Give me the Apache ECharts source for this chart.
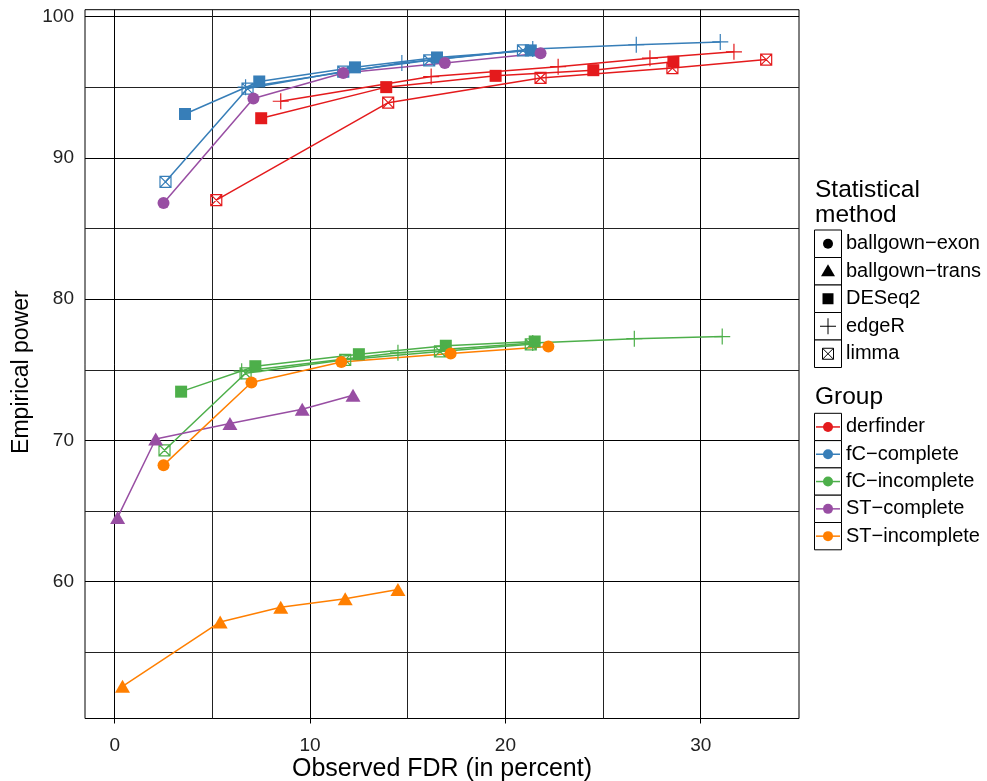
<!DOCTYPE html>
<html><head><meta charset="utf-8">
<script src="https://cdn.jsdelivr.net/npm/echarts@6/dist/echarts.min.js"></script>
<style>html,body{margin:0;padding:0;background:#fff}#c{width:987px;height:781px}</style>
</head><body><div id="c"></div>
<script>
const groups = ['derfinder','fC\u2212complete','fC\u2212incomplete','ST\u2212complete','ST\u2212incomplete'];
const groupColors = ['#E41A1C','#377EB8','#4DAF4A','#984EA3','#FF7F00'];
const methods = ['ballgown\u2212exon','ballgown\u2212trans','DESeq2','edgeR','limma'];
const xTicks = [0,10,20,30];
const xMinorTicks = [5,15,25];
const yTicks = [60,70,80,90,100];
const yMinorTicks = [55,65,75,85,95];

// [observed FDR (%), empirical power (%)]
const derfinderDESeq2   = [[7.5,92.8],[13.9,95.0],[19.5,95.8],[24.5,96.2],[28.6,96.8]];
const derfinderEdgeR    = [[8.5,94.0],[16.2,95.75],[22.7,96.45],[27.4,97.05],[31.7,97.5]];
const derfinderLimma    = [[5.2,87.0],[14.0,93.9],[21.8,95.65],[28.55,96.35],[33.35,96.95]];
const fcCompleteDESeq2  = [[3.6,93.1],[7.4,95.4],[12.3,96.4],[16.5,97.1],[21.3,97.6]];
const fcCompleteEdgeR   = [[6.7,95.0],[14.7,96.7],[21.4,97.7],[26.7,98.0],[31.0,98.2]];
const fcCompleteLimma   = [[2.6,88.3],[6.8,94.9],[11.7,96.1],[16.1,96.9],[20.9,97.6]];
const fcIncompleteDESeq2= [[3.4,73.45],[7.2,75.25],[12.5,76.1],[16.95,76.7],[21.5,77.0]];
const fcIncompleteEdgeR = [[6.5,74.9],[14.5,76.2],[21.4,76.9],[26.6,77.2],[31.1,77.35]];
const fcIncompleteLimma = [[2.55,69.3],[6.7,74.75],[11.8,75.7],[16.65,76.3],[21.3,76.8]];
const stCompleteExon    = [[2.5,86.8],[7.1,94.2],[11.7,96.0],[16.9,96.7],[21.8,97.4]];
const stCompleteTrans   = [[0.15,64.55],[2.1,70.1],[5.9,71.2],[9.6,72.2],[12.2,73.2]];
const stIncompleteExon  = [[2.5,68.25],[7.0,74.1],[11.6,75.55],[17.2,76.15],[22.2,76.65]];
const stIncompleteTrans = [[0.4,52.6],[5.4,57.15],[8.5,58.2],[11.8,58.8],[14.5,59.45]];

const combos = [
  [0,2,derfinderDESeq2],[0,3,derfinderEdgeR],[0,4,derfinderLimma],
  [1,2,fcCompleteDESeq2],[1,3,fcCompleteEdgeR],[1,4,fcCompleteLimma],
  [2,2,fcIncompleteDESeq2],[2,3,fcIncompleteEdgeR],[2,4,fcIncompleteLimma],
  [3,0,stCompleteExon],[3,1,stCompleteTrans],
  [4,0,stIncompleteExon],[4,1,stIncompleteTrans]
];

const FONT = '"Liberation Sans", Arial, Helvetica, sans-serif';
const symbolDefs = [
  {symbol:'circle', size:12, filled:true},
  {symbol:'triangle', size:[15,13], filled:true},
  {symbol:'rect', size:12, filled:true},
  {symbol:'path://M0,8L16,8M8,0L8,16', size:16, filled:false},
  {symbol:'path://M0,0L10,0L10,10L0,10ZM0,0L10,10M10,0L0,10', size:11, filled:false}
];

const series = combos.map(([gi, mi, data]) => {
  const col = groupColors[gi];
  const sd = symbolDefs[mi];
  return {
    name: groups[gi] + ' / ' + methods[mi],
    type: 'line',
    data: data,
    xAxisIndex: 0, yAxisIndex: 0,
    symbol: sd.symbol,
    symbolSize: sd.size,
    showSymbol: true,
    clip: false,
    lineStyle: {color: col, width: 1.5},
    itemStyle: sd.filled ? {color: col, borderWidth: 0} : {color: 'none', borderColor: col, borderWidth: 1.2},
    emphasis: {disabled: true},
    z: 3
  };
});

// Legend drawn as graphics
const graphic = [];
const KX = 814.5, KW = 27, KH = 27.5, SX = 828;
graphic.push({type:'text', x:815, y:190, style:{text:'Statistical', fontSize:24.5, fontFamily:FONT, fill:'#000', verticalAlign:'middle'}});
graphic.push({type:'text', x:815, y:215.5, style:{text:'method', fontSize:24.5, fontFamily:FONT, fill:'#000', verticalAlign:'middle'}});
methods.forEach((m, i) => {
  const top = 230 + i*KH, cy = top + KH/2;
  graphic.push({type:'rect', shape:{x:KX, y:top, width:KW, height:KH}, style:{fill:'#fff', stroke:'#000', lineWidth:1}});
  if (i === 0) graphic.push({type:'circle', shape:{cx:SX, cy:cy, r:5}, style:{fill:'#000'}});
  if (i === 1) graphic.push({type:'polygon', shape:{points:[[SX-7,cy+5],[SX+7,cy+5],[SX,cy-7]]}, style:{fill:'#000'}});
  if (i === 2) graphic.push({type:'rect', shape:{x:SX-5.5, y:cy-5.5, width:11, height:11}, style:{fill:'#000'}});
  if (i === 3) {
    graphic.push({type:'line', shape:{x1:SX-8, y1:cy, x2:SX+8, y2:cy}, style:{stroke:'#000', lineWidth:1}});
    graphic.push({type:'line', shape:{x1:SX, y1:cy-8, x2:SX, y2:cy+8}, style:{stroke:'#000', lineWidth:1}});
  }
  if (i === 4) {
    graphic.push({type:'rect', shape:{x:SX-5.5, y:cy-5.5, width:11, height:11}, style:{fill:'none', stroke:'#000', lineWidth:1}});
    graphic.push({type:'line', shape:{x1:SX-5.5, y1:cy-5.5, x2:SX+5.5, y2:cy+5.5}, style:{stroke:'#000', lineWidth:1}});
    graphic.push({type:'line', shape:{x1:SX+5.5, y1:cy-5.5, x2:SX-5.5, y2:cy+5.5}, style:{stroke:'#000', lineWidth:1}});
  }
  graphic.push({type:'text', x:846, y:cy, style:{text:m, fontSize:20, fontFamily:FONT, fill:'#000', verticalAlign:'middle'}});
});
graphic.push({type:'text', x:815, y:397.5, style:{text:'Group', fontSize:24.5, fontFamily:FONT, fill:'#000', verticalAlign:'middle'}});
const GKH = 27.3;
groups.forEach((gname, i) => {
  const top = 413.3 + i*GKH, cy = top + GKH/2;
  graphic.push({type:'rect', shape:{x:KX, y:top, width:KW, height:GKH}, style:{fill:'#fff', stroke:'#000', lineWidth:1}});
  graphic.push({type:'line', shape:{x1:KX+1.5, y1:cy, x2:KX+KW-1.5, y2:cy}, style:{stroke:groupColors[i], lineWidth:1.5}});
  graphic.push({type:'circle', shape:{cx:SX, cy:cy, r:5}, style:{fill:groupColors[i]}});
  graphic.push({type:'text', x:846, y:cy, style:{text:gname, fontSize:20, fontFamily:FONT, fill:'#000', verticalAlign:'middle'}});
});

const XMIN = -1.52, XMAX = 35.03, YMIN = 50.32, YMAX = 100.48;
const option = {
  animation: false,
  backgroundColor: '#fff',
  textStyle: {fontFamily: FONT},
  grid: {left:85, top:9.7, right:188, bottom:62.5, show:true, borderColor:'#000', borderWidth:1, containLabel:false, outerBoundsMode:'none'},
  xAxis: [
    {type:'value', min:XMIN, max:XMAX,
     axisLine:{show:false},
     axisTick:{show:true, customValues:xTicks, length:5, lineStyle:{color:'#000', width:1}},
     axisLabel:{customValues:xTicks, fontSize:19, color:'#222', margin:18, fontFamily:FONT},
     splitLine:{show:true, lineStyle:{color:'#000', width:1}},
     name:'Observed FDR (in percent)', nameLocation:'middle', nameGap:38, nameMoveOverlap:false,
     nameTextStyle:{fontSize:25, color:'#000', fontFamily:FONT}},
    {type:'value', min:XMIN, max:XMAX, position:'bottom',
     axisLine:{show:false},
     axisTick:{show:false, customValues:xMinorTicks},
     axisLabel:{show:false, customValues:xMinorTicks},
     splitLine:{show:true, lineStyle:{color:'#222', width:1}}}
  ],
  yAxis: [
    {type:'value', min:YMIN, max:YMAX,
     axisLine:{show:false},
     axisTick:{show:true, customValues:yTicks, length:5, lineStyle:{color:'#000', width:1}},
     axisLabel:{customValues:yTicks, fontSize:19, color:'#222', margin:11, fontFamily:FONT},
     splitLine:{show:true, lineStyle:{color:'#000', width:1}},
     name:'Empirical power', nameLocation:'middle', nameGap:52, nameRotate:90, nameMoveOverlap:false,
     nameTextStyle:{fontSize:23, color:'#000', fontFamily:FONT, padding:[0,16,0,0]}},
    {type:'value', min:YMIN, max:YMAX, position:'left',
     axisLine:{show:false},
     axisTick:{show:false, customValues:yMinorTicks},
     axisLabel:{show:false, customValues:yMinorTicks},
     splitLine:{show:true, lineStyle:{color:'#222', width:1}}}
  ],
  graphic: graphic,
  series: series
};
const chart = echarts.init(document.getElementById('c'), null, {renderer:'canvas'});
chart.setOption(option);
</script>
</body></html>
